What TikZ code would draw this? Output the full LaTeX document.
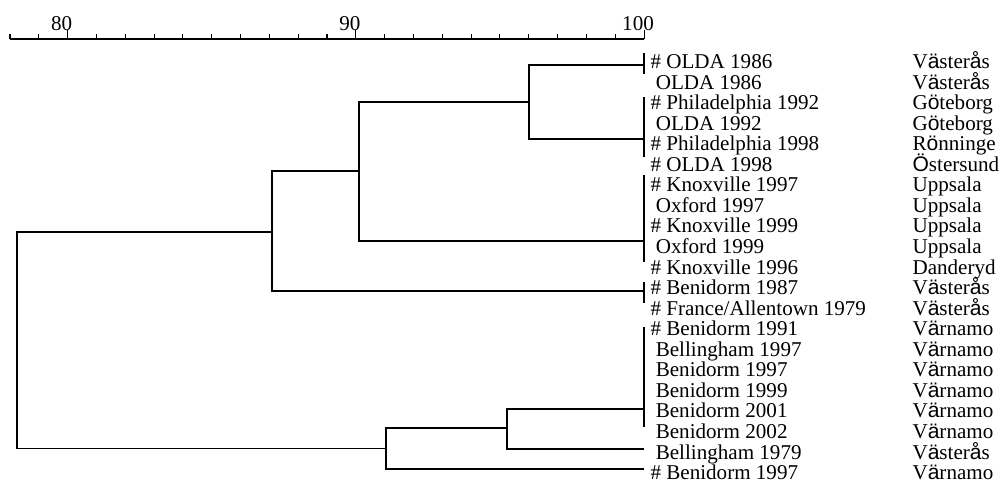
\documentclass[tikz,border=0pt]{standalone}
\usepackage{fontspec}
\setmainfont{Liberation Serif}
\newfontfamily\diafont{Liberation Sans}
\newcommand{\dia}[1]{{\diafont #1}}
\usetikzlibrary{calc}

\begin{document}
\begin{tikzpicture}[x=0.02cm, y=-0.02cm, line width=0.6pt,
    txt/.style={inner sep=0, font=\fontsize{12}{14}\selectfont},
    leaf/.style={txt, anchor=base west},
    site/.style={txt, anchor=base west},
    scalelab/.style={txt, anchor=base}]
      \useasboundingbox (0,0) rectangle (1000,487);

      % similarity scale
      \draw (10,39) -- (644,39);
      \foreach \k in {0,...,22}
        \draw ({10+28.82*\k},39) -- ++(0,-5);
      \foreach \v/\k in {80/2, 90/12, 100/22} {
        \draw ({10+28.82*\k},39) -- ++(0,-9);
        \node [scalelab] (t\v) at ({10+28.82*\k-6},30.5) {\v};
      }

      % strains
      \node [leaf] (s0) at (650,68.5) {\# OLDA 1986};
      \node [leaf] (s1) at (650,89) {\ OLDA 1986};
      \node [leaf] (s2) at (650,109.6) {\# Philadelphia 1992};
      \node [leaf] (s3) at (650,130.2) {\ OLDA 1992};
      \node [leaf] (s4) at (650,150.7) {\# Philadelphia 1998};
      \node [leaf] (s5) at (650,171.3) {\# OLDA 1998};
      \node [leaf] (s6) at (650,191.8) {\# Knoxville 1997};
      \node [leaf] (s7) at (650,212.4) {\ Oxford 1997};
      \node [leaf] (s8) at (650,232.9) {\# Knoxville 1999};
      \node [leaf] (s9) at (650,253.5) {\ Oxford 1999};
      \node [leaf] (s10) at (650,274) {\# Knoxville 1996};
      \node [leaf] (s11) at (650,294.6) {\# Benidorm 1987};
      \node [leaf] (s12) at (650,315.1) {\# France/Allentown 1979};
      \node [leaf] (s13) at (650,335.7) {\# Benidorm 1991};
      \node [leaf] (s14) at (650,356.2) {\ Bellingham 1997};
      \node [leaf] (s15) at (650,376.8) {\ Benidorm 1997};
      \node [leaf] (s16) at (650,397.3) {\ Benidorm 1999};
      \node [leaf] (s17) at (650,417.9) {\ Benidorm 2001};
      \node [leaf] (s18) at (650,438.4) {\ Benidorm 2002};
      \node [leaf] (s19) at (650,459) {\ Bellingham 1979};
      \node [leaf] (s20) at (650,479.5) {\# Benidorm 1997};

      % places
      \node [site] (p0) at (912,68.5) {V\dia{ä}ster\dia{å}s};
      \node [site] (p1) at (912,89) {V\dia{ä}ster\dia{å}s};
      \node [site] (p2) at (912,109.6) {G\dia{ö}teborg};
      \node [site] (p3) at (912,130.2) {G\dia{ö}teborg};
      \node [site] (p4) at (912,150.7) {R\dia{ö}nninge};
      \node [site] (p5) at (912,171.3) {\dia{Ö}stersund};
      \node [site] (p6) at (912,191.8) {Uppsala};
      \node [site] (p7) at (912,212.4) {Uppsala};
      \node [site] (p8) at (912,232.9) {Uppsala};
      \node [site] (p9) at (912,253.5) {Uppsala};
      \node [site] (p10) at (912,274) {Danderyd};
      \node [site] (p11) at (912,294.6) {V\dia{ä}ster\dia{å}s};
      \node [site] (p12) at (912,315.1) {V\dia{ä}ster\dia{å}s};
      \node [site] (p13) at (912,335.7) {V\dia{ä}rnamo};
      \node [site] (p14) at (912,356.2) {V\dia{ä}rnamo};
      \node [site] (p15) at (912,376.8) {V\dia{ä}rnamo};
      \node [site] (p16) at (912,397.3) {V\dia{ä}rnamo};
      \node [site] (p17) at (912,417.9) {V\dia{ä}rnamo};
      \node [site] (p18) at (912,438.4) {V\dia{ä}rnamo};
      \node [site] (p19) at (912,459) {V\dia{ä}ster\dia{å}s};
      \node [site] (p20) at (912,479.5) {V\dia{ä}rnamo};

      % tree
      \coordinate (c1) at (644,65);
      \coordinate (c2) at (644,139);
      \coordinate (c3) at (644,241);
      \coordinate (c4) at (644,291);
      \coordinate (c5) at (644,409);
      \coordinate (c6) at (644,449);
      \coordinate (c7) at (644,469);
      \coordinate (n1) at (529,102);
      \coordinate (n2) at (359,171);
      \coordinate (n3) at (272,232);
      \coordinate (n4) at (507,428);
      \coordinate (n5) at (386,448.5);
      \coordinate (root) at (17,340);

      \foreach \t/\b in {53/74, 97/157, 175/262, 282/303, 327/427}
        \draw (644,\t) -- (644,\b);

      \draw (c1) -| (n1) |- (c2);
      \draw (n1) -| (n2) |- (c3);
      \draw (n2) -| (n3) |- (c4);
      \draw (c5) -| (n4) |- (c6);
      \draw (n4) -| (n5) |- (c7);
      \draw (n3) -| (root) |- (n5);

  \end{tikzpicture}
\end{document}
